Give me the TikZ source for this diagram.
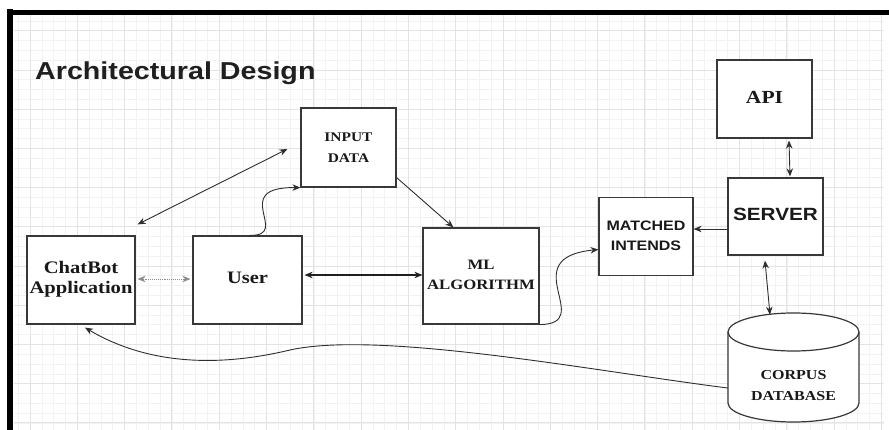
\documentclass[tikz,border=0pt]{standalone}
\usepackage{fontspec}
\setmainfont{Liberation Serif}
\newfontfamily\arialfont{Liberation Sans}
\usetikzlibrary{arrows.meta,calc}
% horizontally widened, centred multi-line label
\newcommand\wtxt[1]{\scalebox{1.17}[1]{\begin{tabular}{@{}c@{}}#1\end{tabular}}}
\begin{document}
\begin{tikzpicture}[x=1pt,y=-1pt,
  >={Stealth[length=8pt,width=6.5pt]},
  minorgrid/.style={draw=black!5, line width=0.6pt},
  majorgrid/.style={draw=black!11, line width=0.9pt},
  frameline/.style={draw=black, line cap=rect},
  boxline/.style={draw=black!78, line width=1.2pt},
  box/.style={boxline, fill=white, inner sep=0pt, text=black!90, align=center},
  conn/.style={draw=black!82, line width=0.9pt},
  lightconn/.style={draw=black!45, line width=0.9pt, densely dotted},
]
\useasboundingbox (0,0) rectangle (889,430);
\fill[white] (0,0) rectangle (889,430);

% background grid
\foreach \i in {0,...,73} {\draw[minorgrid] ({18.175+11.825*\i},15) -- ({18.175+11.825*\i},430);}
\foreach \j in {0,...,41} {\draw[minorgrid] (14,{21+9.8*\j}) -- (884,{21+9.8*\j});}
\foreach \i in {0,...,18} {\draw[majorgrid] ({30+47.3*\i},15) -- ({30+47.3*\i},430);}
\foreach \j in {0,...,10} {\draw[majorgrid] (14,{30.8+39.2*\j}) -- (884,{30.8+39.2*\j});}

% frame
\draw[frameline, line width=5pt] (10,12.5) -- (889,12.5);
\draw[frameline, line width=6pt] (10,12.5) -- (10,432);

% title
\node[anchor=base west, inner sep=0pt, text=black!88,
      font=\arialfont\bfseries\fontsize{24.5}{28}\selectfont] (title) at (35,80)
  {\scalebox{1.17}[1]{Architectural Design}};

% boxes
\node[box, minimum width=95, minimum height=79,
      font=\bfseries\fontsize{13.2}{21}\selectfont] (input) at (348.5,147.5) {\wtxt{INPUT\\DATA}};
\node[box, minimum width=95, minimum height=78,
      font=\bfseries\fontsize{18.4}{21}\selectfont] (api) at (764.5,99) {\wtxt{API}};
\node[box, minimum width=95, minimum height=77,
      font=\arialfont\bfseries\fontsize{17.7}{21}\selectfont] (server) at (775.5,216.5) {\wtxt{SERVER}};
\node[box, minimum width=94, minimum height=78,
      font=\arialfont\bfseries\fontsize{13.7}{20}\selectfont] (match) at (646,236.5) {\wtxt{MATCHED\\INTENDS}};
\node[box, minimum width=116, minimum height=96,
      font=\bfseries\fontsize{14.3}{20}\selectfont] (ml) at (481,276) {\wtxt{ML\\ALGORITHM}};
\node[box, minimum width=109, minimum height=88,
      font=\bfseries\fontsize{17.5}{20}\selectfont] (user) at (247.5,280) {\wtxt{User}};
\node[box, minimum width=108, minimum height=88,
      font=\bfseries\fontsize{17.6}{20}\selectfont] (chat) at (81,280) {\wtxt{ChatBot\\Application}};

% corpus database cylinder
\fill[white] (728,332) -- (728,403)
  arc[start angle=180, end angle=360, x radius=65.5pt, y radius=19pt] -- (859,332)
  arc[start angle=0, end angle=180, x radius=65.5pt, y radius=19pt] -- cycle;
\draw[boxline] (728,332) -- (728,403)
  arc[start angle=180, end angle=360, x radius=65.5pt, y radius=19pt] -- (859,332);
\draw[boxline] (793.5,332) ellipse [x radius=65.5pt, y radius=19pt];
\node[minimum width=131, minimum height=109, inner sep=0pt] (corpus) at (793.5,367.5) {};
\node[inner sep=0pt, align=center, text=black!90,
      font=\bfseries\fontsize{13.7}{21}\selectfont] (corpuslabel) at (793.5,386) {\wtxt{CORPUS\\DATABASE}};

% connectors
\draw[conn, <->] ([shift={(2,-11)}]chat.north east) -- ([shift={(-13,1.5)}]input.west);
\draw[lightconn, <->] ([shift={(2,-1)}]chat.east) -- ([shift={(-2,-1)}]user.west);
\draw[conn, <->, line width=1.3pt, draw=black!88] ([shift={(2,-5)}]user.east) -- ([shift={(0,-5)}]user.east -| ml.west);
\draw[conn, ->] ([shift={(2.5,0)}]user.north) .. controls (292,236) and (228,187) .. (input.south west);
\draw[conn, ->] ([shift={(0,-10)}]input.south east) -- ([shift={(31,0)}]ml.north west);
\draw[conn, ->] (ml.south east) .. controls (597,324) and (513,258) .. ([shift={(0,13)}]match.west);
\draw[conn, ->] ([shift={(0,12.5)}]server.west) -- ([shift={(0,12.5)}]server.west -| match.east);
\draw[conn, <->] ([shift={(24.5,2)}]api.south) -- ([shift={(14.5,-1)}]server.north);
\draw[conn, <->] ([shift={(-10.5,5)}]server.south) -- ([shift={(-23.5,2)}]corpus.north);
\draw[conn, ->] ([shift={(0,20.5)}]corpus.west)
  .. controls (600,372) and (380,330) .. (290,350)
  .. controls (240,362) and (160,372) .. ([shift={(4,3)}]chat.south);
\end{tikzpicture}
\end{document}
